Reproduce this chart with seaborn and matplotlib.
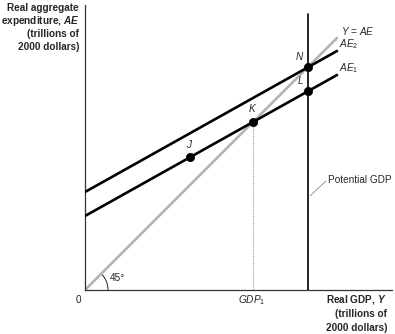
import matplotlib
matplotlib.use("Agg")
import matplotlib.pyplot as plt
from matplotlib.patches import Arc
import seaborn as sns
import pandas as pd

# Aggregate expenditure model (trillions of 2000 dollars)
potential_gdp = 22.3
gdp1 = 16.8
line_x = [0.0, 25.2]
ae1_y = [7.4, 21.5]
ae2_y = [9.8, 23.9]
y_eq_ae_y = [0.0, 25.2]

point_names = ["J", "K", "L", "N"]
point_x = [10.5, 16.8, 22.3, 22.3]
point_y = [13.3, 16.8, 19.9, 22.3]

sns.set_style("white")
plt.rcParams["font.family"] = ["Liberation Sans", "DejaVu Sans"]
plt.rcParams["mathtext.fontset"] = "custom"
plt.rcParams["mathtext.rm"] = "Liberation Sans"
plt.rcParams["mathtext.it"] = "Liberation Sans:italic"
plt.rcParams["mathtext.bf"] = "Liberation Sans:bold"
plt.rcParams["mathtext.bfit"] = "Liberation Sans:italic:bold"

W, H = 395, 334
fig = plt.figure(figsize=(W / 100, H / 100), dpi=100)
ax = fig.add_axes([85 / W, (H - 290) / H, (392 - 85) / W, (290 - 5) / H])
ax.set_xlim(0, 30.7)
ax.set_ylim(0, 28.5)

for s in ["top", "right"]:
    ax.spines[s].set_visible(False)
for s in ["left", "bottom"]:
    ax.spines[s].set_color("#333333")
    ax.spines[s].set_linewidth(0.9)
ax.set_xticks([])
ax.set_yticks([])

# 45-degree line
sns.lineplot(x=line_x, y=y_eq_ae_y, ax=ax, color="#b3b3b3", lw=1.9, zorder=2)

# potential GDP
ax.plot([potential_gdp, potential_gdp], [0, 27.6], color="black", lw=1.2, zorder=3)

# dotted guide from K
ax.plot([gdp1, gdp1], [0, point_y[1]], color="#999999", lw=0.8, ls=(0, (1, 1)), zorder=1)

# AE lines
sns.lineplot(x=line_x, y=ae1_y, ax=ax, color="black", lw=1.9, zorder=4)
sns.lineplot(x=line_x, y=ae2_y, ax=ax, color="black", lw=1.9, zorder=4)

pts = pd.DataFrame({"name": point_names, "x": point_x, "y": point_y})
sns.scatterplot(data=pts, x="x", y="y", ax=ax, color="black", s=36,
                edgecolor="black", zorder=6, legend=False)
ax.set_xlabel("")
ax.set_ylabel("")

fs = 7.2
# point labels
ax.text(point_x[0], point_y[0] + 0.75, "$J$", ha="center", va="bottom", fontsize=fs)
ax.text(point_x[1], point_y[1] + 0.75, "$K$", ha="center", va="bottom", fontsize=fs)
ax.text(point_x[2] - 0.4, point_y[2] + 0.5, "$L$", ha="right", va="bottom", fontsize=fs)
ax.text(point_x[3] - 0.4, point_y[3] + 0.5, "$N$", ha="right", va="bottom", fontsize=fs)

ax.text(25.6, 25.3, "$Y$ = $AE$", ha="left", va="bottom", fontsize=fs)
ax.text(25.4, 23.9, "$AE_2$", ha="left", va="bottom", fontsize=fs)
ax.text(25.4, 21.5, "$AE_1$", ha="left", va="bottom", fontsize=fs)

# potential GDP label with leader
ax.plot([potential_gdp + 0.2, 24.1], [9.4, 10.9], color="#777777", lw=0.5)
ax.text(24.3, 11.0, "Potential GDP", ha="left", va="center", fontsize=fs)

# 45 degree arc
arc = Arc((0, 0), 4.6, 4.6, theta1=0, theta2=45, color="black", lw=0.6)
ax.add_patch(arc)
ax.text(2.5, 0.7, "45°", ha="left", va="bottom", fontsize=fs)

# axis texts
fig.text(76 / W, 1 - 300 / H, "0", ha="left", va="center", fontsize=fs)
fig.text(252 / W, 1 - 300 / H, "$GDP_1$", ha="center", va="center", fontsize=fs)

xlab = [r"Real GDP, $\mathbfit{Y}$", "(trillions of", "2000 dollars)"]
for i, t in enumerate(xlab):
    fig.text(387 / W, 1 - (300 + 14 * i) / H, t, ha="right", va="center",
             fontsize=fs, fontweight="bold")

ylab = ["Real aggregate", r"expenditure, $\mathbfit{AE}$", "(trillions of", "2000 dollars)"]
for i, t in enumerate(ylab):
    fig.text(79 / W, 1 - (8 + 13 * i) / H, t, ha="right", va="center",
             fontsize=fs, fontweight="bold")

fig.savefig("out.png", dpi=100)
